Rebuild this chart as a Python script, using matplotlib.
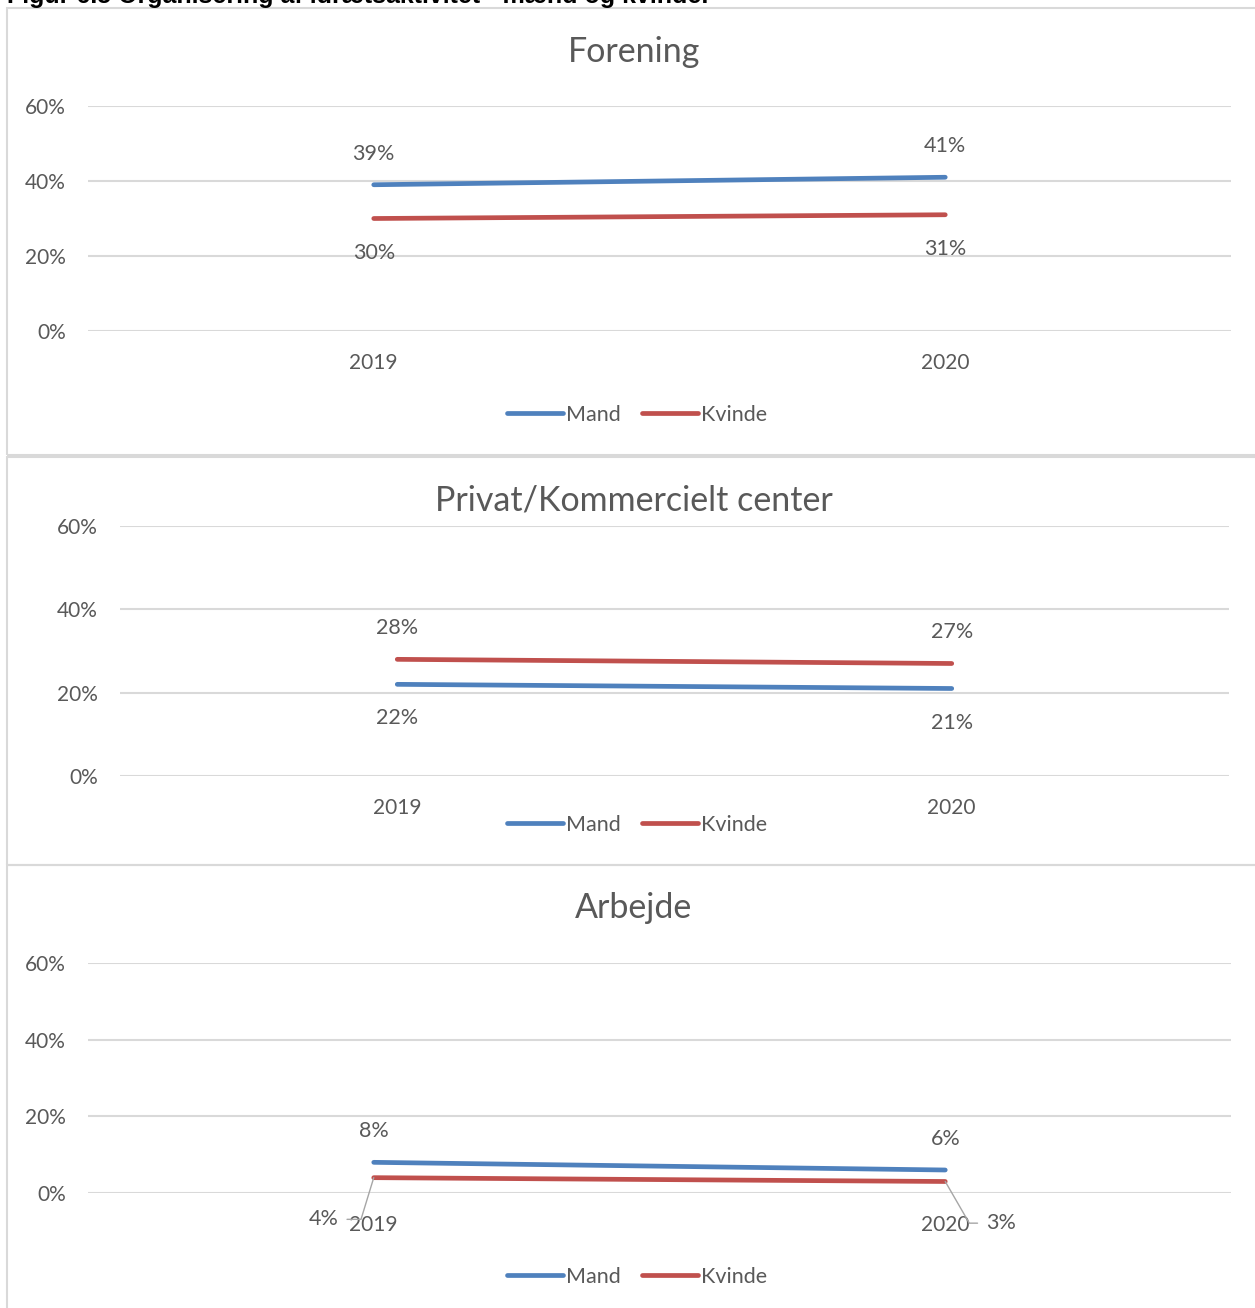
import matplotlib
matplotlib.use("Agg")
import matplotlib.pyplot as plt
import matplotlib.patches as mpatches

W, H = 1255, 1308

YEARS = ["2019", "2020"]
PANEL_TITLES = ["Forening", "Privat/Kommercielt center", "Arbejde"]
MAND = [[39, 41], [22, 21], [8, 6]]
KVINDE = [[30, 31], [28, 27], [4, 3]]
Y_TICKS = [0, 20, 40, 60]

BLUE = "#4F81BD"
RED = "#C0504D"
TXT = "#595959"
GRID = "#D9D9D9"
FONT = "Lato"

plt.rcParams["font.family"] = [FONT, "DejaVu Sans"]

fig = plt.figure(figsize=(W / 100, H / 100), dpi=100)


def fx(px):
    return px / W


def fy(py):
    return 1 - py / H


# panel frames: (top, bottom) in px
frames = [(8, 455), (457, 865), (865, 1312)]
for top, bot in frames:
    fig.add_artist(mpatches.Rectangle((fx(7), fy(bot)), fx(1265) - fx(7), fy(top) - fy(bot),
                                      transform=fig.transFigure, fill=False,
                                      edgecolor=GRID, linewidth=1.5))

# axes boxes: left, right, top(60%), bottom(0%)
boxes = [(88, 1231, 106, 331), (120, 1229, 526, 776), (88, 1231, 963, 1193)]
title_y = [52, 500, 908]
legend_y = [415, 825, 1277]
# label placement: +1 above, -1 below, 0 = leader line
mand_side = [1, -1, 1]
kvinde_side = [-1, 1, 0]

# figure caption, cut off at the top edge like the source
fig.text(fx(7), fy(3), "Figur 6.5 Organisering af idrætsaktivitet - mænd og kvinder",
         fontsize=18, fontweight="bold", family="Liberation Sans",
         ha="left", va="baseline", color="black")

for i in range(3):
    l, r, t, b = boxes[i]
    ax = fig.add_axes([fx(l), fy(b), fx(r) - fx(l), fy(t) - fy(b)])
    x = list(range(len(YEARS)))
    ax.plot(x, MAND[i], color=BLUE, lw=3.4, solid_capstyle="round", label="Mand", zorder=3)
    ax.plot(x, KVINDE[i], color=RED, lw=3.4, solid_capstyle="round", label="Kvinde", zorder=3)
    ax.set_xlim(-0.5, 1.5)
    ax.set_ylim(0, 60)
    ax.set_yticks(Y_TICKS)
    ax.set_yticklabels([f"{v}%" for v in Y_TICKS])
    ax.set_xticks(x)
    ax.set_xticklabels(YEARS)
    ax.tick_params(length=0, labelsize=15, labelcolor=TXT)
    ax.tick_params(axis="y", pad=16)
    ax.tick_params(axis="x", pad=16)
    for s in ax.spines.values():
        s.set_visible(False)
    ax.grid(axis="y", color=GRID, lw=1.5)
    ax.set_axisbelow(True)
    ax.patch.set_alpha(0)

    for vals, side in ((MAND[i], mand_side[i]), (KVINDE[i], kvinde_side[i])):
        for xi, v in zip(x, vals):
            if side != 0:
                off = 22.5 if side > 0 else -24.5
                ax.annotate(f"{v}%", (xi, v), xytext=(0, off), textcoords="offset points",
                            ha="center", va="center", fontsize=15.5, color=TXT,
                            annotation_clip=False)
            else:
                dx = -36 if xi == 0 else 40
                ax.annotate(f"{v}%", (xi, v), xytext=(dx, -30), textcoords="offset points",
                            ha="center", va="center", fontsize=15.5, color=TXT,
                            annotation_clip=False,
                            arrowprops=dict(arrowstyle="-", color="#A6A6A6", lw=1,
                                            shrinkA=4, shrinkB=0,
                                            relpos=(1, 0.5) if xi == 0 else (0, 0.5),
                                            connectionstyle="angle,angleA=0,angleB=%d"
                                            % (73 if xi == 0 else -60)))

    fig.text(fx(634), fy(title_y[i]), PANEL_TITLES[i], fontsize=24.5, color=TXT,
             ha="center", va="center")
    ax.legend(loc="center", bbox_to_anchor=(fx(637), fy(legend_y[i])),
              bbox_transform=fig.transFigure, ncol=2, frameon=False,
              fontsize=15.5, labelcolor=TXT, handlelength=2.6, handletextpad=0.12,
              columnspacing=1.0)

fig.savefig("out.png", dpi=100)
